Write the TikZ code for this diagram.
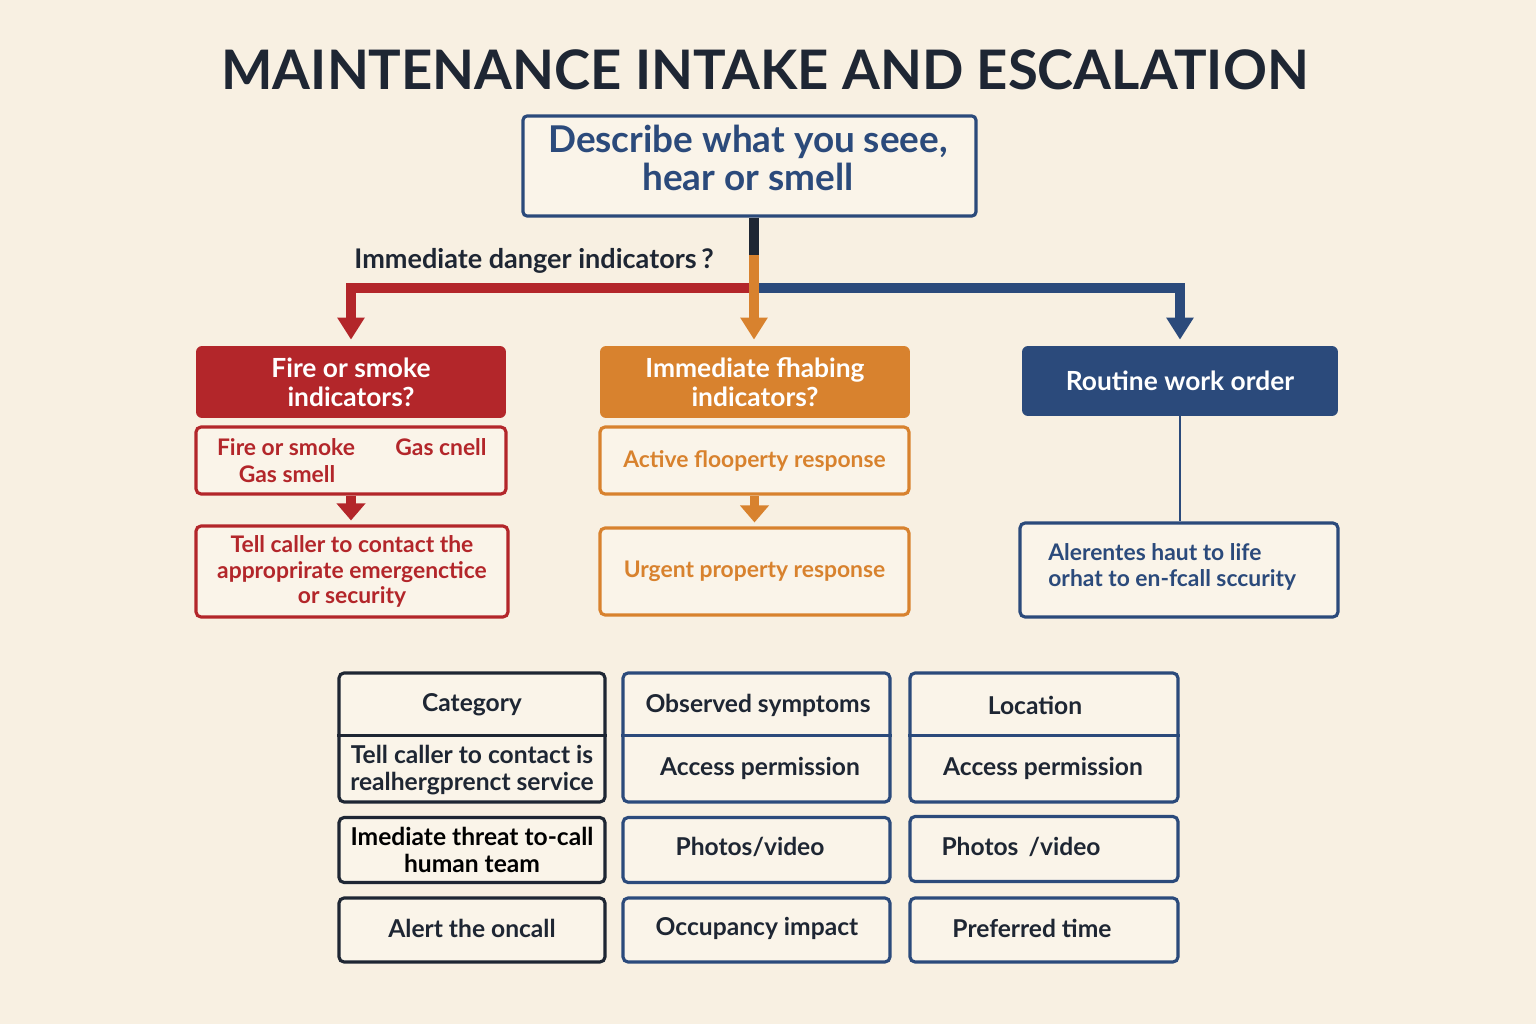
\documentclass[tikz,border=0pt]{standalone}
\usepackage{fontspec}
\setmainfont{Lato}
\usetikzlibrary{arrows.meta}

\definecolor{paper}{HTML}{F8F0E2}
\definecolor{boxbg}{HTML}{FAF4E9}
\definecolor{ink}{HTML}{1E2633}
\definecolor{firered}{HTML}{B3262A}
\definecolor{amber}{HTML}{D8822E}
\definecolor{navy}{HTML}{2B4A7B}

\begin{document}
\begin{tikzpicture}[x=0.02cm, y=-0.02cm,
    txt/.style={font=\fontsize{14}{15}\selectfont\bfseries, inner sep=0pt, align=center},
    small/.style={font=\fontsize{13}{14.6}\selectfont\bfseries},
    head/.style={txt, rounded corners=0.12cm, text=white, minimum width=6.2cm,
      minimum height=1.44cm, font=\fontsize{15}{16.5}\selectfont\bfseries},
    sub/.style={txt, draw, line width=1.8pt, rounded corners=0.1cm, fill=boxbg},
    cell/.style={txt, draw=navy, line width=1.8pt, rounded corners=0.1cm, fill=boxbg,
      minimum width=5.34cm, minimum height=1.3cm},
    flow/.style={line width=5.5pt, shorten >=0.12cm, -{Triangle[width=0.52cm,length=0.44cm]}},
    step arrow/.style={line width=5.5pt, shorten >=0.08cm, -{Triangle[width=0.56cm,length=0.34cm]}}]
  \fill[paper] (0,0) rectangle (1536,1024);
  \useasboundingbox (0,0) rectangle (1536,1024);

  % title and first question
  \node[text=ink, font=\fontsize{31}{31}\selectfont\bfseries] (title) at (765,70)
       {MAINTENANCE INTAKE AND ESCALATION};
  \node[sub, draw=navy, rounded corners=0.08cm, minimum width=9.06cm,
        minimum height=2cm] (describe) at (749.5,166) {};
  \node[txt, text=navy, font=\fontsize{21}{21.5}\selectfont\bfseries] (describetxt) at (748,158)
       {Describe what you seee,\\ hear or smell};
  \node[txt, text=ink, font=\fontsize{15.4}{15.4}\selectfont\bfseries] (question) at (534,261)
       {Immediate danger indicators\,?};

  % the three branches
  \node[head, fill=firered] (firehead) at (351,382) {Fire or smoke\\ indicators?};
  \node[head, fill=amber] (floodhead) at (755,382) {Immediate fhabing\\ indicators?};
  \node[head, fill=navy, minimum width=6.32cm, minimum height=1.4cm] (routine) at (1180,381)
       {Routine work order};

  \coordinate (split) at (754,255);
  \coordinate (fork) at (754,288);
  \draw[ink, line width=5.5pt] (split |- describe.south) -- (split);
  \draw[flow, firered] (fork) -| (firehead.north);
  \draw[flow, navy] (fork) -| (routine.north);
  \draw[flow, amber] (split) -- (split |- floodhead.north);

  % fire column
  \node[sub, draw=firered, minimum width=6.2cm, minimum height=1.34cm] (firesub) at (351,460.5) {};
  \node[txt, small, text=firered] (firesmoke) at (286,447) {Fire or smoke};
  \node[txt, small, text=firered] (gascnell) at (441,447) {Gas cnell};
  \node[txt, small, text=firered] (gassmell) at (287,474) {Gas smell};
  \node[sub, small, draw=firered, text=firered, minimum width=6.24cm, minimum height=1.82cm] (fireact)
       at (352,571.5) {Tell caller to contact the\\ approprirate emergenctice\\ or security};
  \draw[step arrow, firered] (firesub.south) -- (fireact.north -| firesub.south);

  % flood column
  \node[sub, small, draw=amber, text=amber, minimum width=6.18cm, minimum height=1.34cm] (floodsub)
       at (754.5,460.5) {Active flooperty response};
  \node[sub, small, draw=amber, text=amber, minimum width=6.18cm, minimum height=1.74cm] (floodact)
       at (754.5,571.5) {Urgent property response};
  \draw[step arrow, amber] (floodsub.south) -- (floodact.north);

  % routine column
  \node[sub, draw=navy, minimum width=6.36cm, minimum height=1.88cm] (alert) at (1179,570) {};
  \node[txt, small, text=navy, align=left, anchor=west] (alerttxt) at (1048,567)
       {Alerentes haut to life\\ orhat to en-fcall sccurity};
  \draw[navy, line width=1.6pt] (routine.south) -- (routine.south |- alert.north);

  % intake table
  \node[cell, draw=ink, minimum width=5.32cm, minimum height=2.58cm] (catbox) at (472,737.5) {};
  \node[cell, minimum height=2.58cm] (symbox) at (756.5,737.5) {};
  \node[cell, minimum width=5.36cm, minimum height=2.58cm] (locbox) at (1044,737.5) {};
  \draw[ink, line width=1.8pt] ([yshift=-1.28cm]catbox.north west) -- ([yshift=-1.28cm]catbox.north east);
  \draw[navy, line width=1.8pt] ([yshift=-1.28cm]symbox.north west) -- ([yshift=-1.28cm]symbox.north east);
  \draw[navy, line width=1.8pt] ([yshift=-1.28cm]locbox.north west) -- ([yshift=-1.28cm]locbox.north east);
  \node[txt, text=ink] (category) at (472,705) {Category};
  \node[txt, text=ink] (tellcaller) at (472,770) {Tell caller to contact is\\ realhergprenct service};
  \node[txt, text=ink] (symptoms) at (758,705) {Observed symptoms};
  \node[txt, text=ink] (access) at (760,768) {Access permission};
  \node[txt, text=ink] (location) at (1035,705) {Location};
  \node[txt, text=ink] (locaccess) at (1043,768) {Access permission};

  \node[cell, draw=ink, minimum width=5.32cm] (threat) at (472,850) {Imediate threat to-call\\ human team};
  \node[cell] (photos) at (756.5,850) {};
  \node[txt, text=ink] (photostxt) at (750,847) {Photos/video};
  \node[cell, minimum width=5.36cm] (locphotos) at (1044,849) {};
  \node[txt, text=ink] (locphotostxt) at (1021,847) {Photos \,/video};

  \node[cell, draw=ink, minimum width=5.32cm, minimum height=1.28cm] (oncall) at (472,930) {};
  \node[txt, text=ink] (oncalltxt) at (472,928) {Alert the oncall};
  \node[cell, minimum height=1.28cm] (occupancy) at (756.5,930) {};
  \node[txt, text=ink] (occupancytxt) at (757,928) {Occupancy impact};
  \node[cell, minimum width=5.36cm, minimum height=1.28cm] (pretime) at (1044,930) {};
  \node[txt, text=ink] (pretimetxt) at (1032,928) {Preferred time};
\end{tikzpicture}
\end{document}
